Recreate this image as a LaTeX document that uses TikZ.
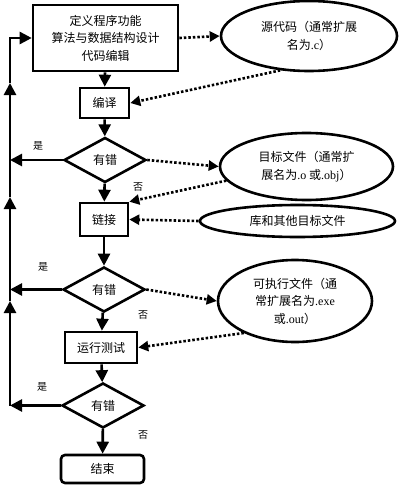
\documentclass[tikz,border=0pt]{standalone}
\usepackage{fontspec}
\setmainfont{Noto Sans CJK SC}
\newfontfamily\latin{Liberation Serif}
\usetikzlibrary{shapes.geometric,arrows.meta}
\tikzset{
  stepbox/.style={draw, line width=2.6pt, align=center, inner sep=0pt,
    font=\fontsize{12}{17.5}\selectfont},
  decide/.style={diamond, draw, line width=2.6pt, inner sep=0pt,
    minimum width=82pt, minimum height=45pt, font=\fontsize{12}{14}\selectfont},
  fileell/.style={ellipse, draw, line width=2.6pt, align=center, inner sep=0pt,
    font=\fontsize{12}{17.5}\selectfont},
  arr/.style={line width=2.6pt, -{Triangle[length=12pt,width=12pt]}},
  darr/.style={line width=2.6pt, dash pattern=on 2.5pt off 2pt,
    -{Triangle[length=10pt,width=10pt]}},
  yesno/.style={font=\fontsize{10}{12}\selectfont}
}
\begin{document}
\begin{tikzpicture}[x=1pt,y=-1pt]
\useasboundingbox (0,0) rectangle (401,487);

\node[stepbox, minimum width=145pt, minimum height=66pt] (prog) at (105.5,38)
  {定义程序功能\\算法与数据结构设计\\代码编辑};
\node[stepbox, minimum width=49pt, minimum height=30pt] (comp) at (104.5,103) {编译};
\node[decide] (err1) at (105,160) {有错};
\node[stepbox, minimum width=48pt, minimum height=33pt] (link) at (104,219.5) {链接};
\node[decide] (err2) at (104,289.5) {有错};
\node[stepbox, minimum width=72pt, minimum height=31pt] (run) at (101,347.5) {运行测试};
\node[decide] (err3) at (103,405.5) {有错};
\node[stepbox, rounded corners=4pt, minimum width=83pt, minimum height=28pt] (finish)
  at (102.5,469) {结束};

\node[fileell, minimum width=176pt, minimum height=70pt] (src) at (309,36)
  {源代码（通常扩展\\名为{\latin .c}）};
\node[fileell, minimum width=173pt, minimum height=67pt] (obj) at (306.5,166.5)
  {目标文件（通常扩\\展名为{\latin .o} 或{\latin .obj}）};
\node[fileell, minimum width=195pt, minimum height=32pt] (lib) at (297.5,221)
  {库和其他目标文件};
\node[fileell, minimum width=154pt, minimum height=82pt] (exe) at (295,301)
  {可执行文件（通\\常扩展名为{\latin .exe}\\或{\latin .out}）};

\foreach \a/\b in {prog/comp,comp/err1,err1/link,link/err2,err2/run,run/err3,err3/finish}
{
  \draw[arr] (\a) -- (\b);
}

\coordinate (l1) at (10,160);
\coordinate (l2) at (10,289.5);
\coordinate (l3) at (10,405.5);
\coordinate (a1) at (10,83);
\coordinate (a2) at (10,197);
\coordinate (a3) at (10,301);

\draw[arr] (err1.west) -- (l1);
\draw[arr] (err2.west) -- (l2);
\draw[arr] (err3.west) -- (l3);
\draw[arr] (l3) -- (a3);
\draw[arr] (a3) -- (a2);
\draw[arr] (a2) -- (a1);
\draw[arr] (a1) |- (prog.west);

\draw[darr] (prog.east) -- (src.west);
\draw[darr] (src.230) -- (comp.east);
\draw[darr] (err1.east) -- (obj.west);
\draw[darr] (obj.190) -- (link.north east);
\draw[darr] (lib.west) -- (link.east);
\draw[darr] (err2.east) -- (exe.west);
\draw[darr] (exe.212) -- (run.east);

\foreach \x/\y in {38/146,43/267,42/387}
{
  \node[yesno] at (\x,\y) {是};
}
\foreach \x/\y in {138/187,143/315,143/435}
{
  \node[yesno] at (\x,\y) {否};
}

\end{tikzpicture}
\end{document}
